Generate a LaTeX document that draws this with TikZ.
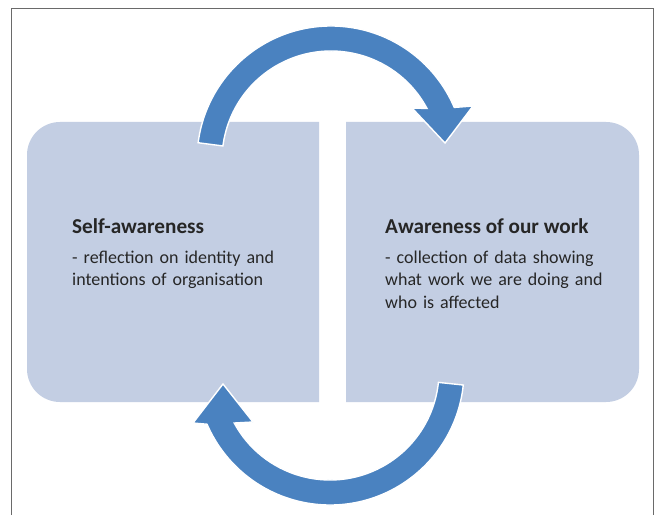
\documentclass[tikz,border=0pt]{standalone}
\usepackage{fontspec}
\setmainfont{Carlito}
\usetikzlibrary{calc}
\definecolor{boxc}{HTML}{C3CEE3}
\definecolor{arrowc}{HTML}{4A82C0}
\definecolor{textc}{HTML}{262626}
\definecolor{framec}{HTML}{6A6A6A}
\tikzset{
  boxfill/.style={fill=boxc},
  cyclearrow/.style={fill=arrowc, draw=white, line width=1.4pt, line join=miter},
  titletext/.style={anchor=base west, inner sep=0pt, text=textc, font=\fontsize{21.2}{25}\selectfont\bfseries},
  bodytext/.style={anchor=base west, inner sep=0pt, text=textc, align=left, text width=260pt, font=\fontsize{18}{22.4}\selectfont},
}
\begin{document}
\begin{tikzpicture}[x=1pt,y=1pt]
\useasboundingbox (0,0) rectangle (660,515);
\fill[white] (0,0) rectangle (660,515);
% frame
\draw[framec, line width=1pt] (11.3,0) -- (11.3,506.3) -- (653.3,506.3) -- (653.3,0);
% boxes
\fill[boxfill] (319,113) -- (60,113) arc[start angle=270, end angle=180, radius=33]
  -- (27,360) arc[start angle=180, end angle=90, radius=33] -- (319,393) -- cycle;
\fill[boxfill] (346,113) -- (606,113) arc[start angle=-90, end angle=0, radius=33]
  -- (639,360) arc[start angle=0, end angle=90, radius=33] -- (346,393) -- cycle;
% centres of arrows
\coordinate (c1) at (331,355);
\coordinate (c2) at (330,144);
\coordinate (h1o) at (473,409);
\coordinate (h1t) at (445,372);
\coordinate (h1i) at (412,407);
\coordinate (h2o) at (193,92);
\coordinate (h2t) at (223,131);
\coordinate (h2i) at (253,93);
% top arrow
\path[cyclearrow] ($(c1)+(172.6:134)$) arc[start angle=172.6, end angle=23.1, radius=134]
  -- (h1o) -- (h1t) -- (h1i) -- ($(c1)+(28.2:109)$)
  arc[start angle=28.2, end angle=172.6, radius=109] -- cycle;
% bottom arrow
\path[cyclearrow] ($(c2)+(-6:134)$) arc[start angle=-6, end angle=-156.6, radius=134]
  -- (h2o) -- (h2t) -- (h2i) -- ($(c2)+(-151.5:109)$)
  arc[start angle=-151.5, end angle=-6, radius=109] -- cycle;
% texts
\node[titletext] (t1) at (72,281.5) {Self-awareness};
\node[bodytext] (b1) at (72,251.5) {- reflection on identity and\\intentions of organisation};
\node[titletext] (t2) at (385,281.5) {Awareness of our work};
\node[bodytext] (b2) at (385,251.5) {- collection of data showing\\what work we are doing and\\who is affected};
\end{tikzpicture}
\end{document}
